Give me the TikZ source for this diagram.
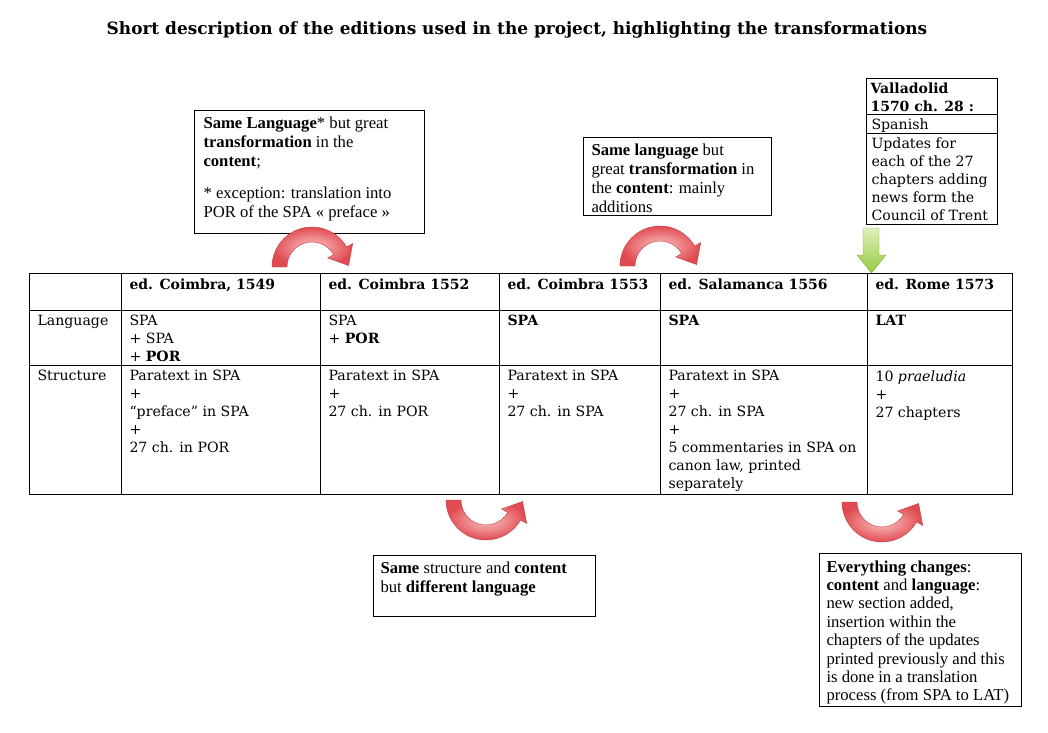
\documentclass[tikz,border=0pt]{standalone}
\usepackage{fontspec}
\setmainfont{DejaVu Serif}
\newfontfamily\notefont{Liberation Serif}
\usetikzlibrary{positioning, fit}

\definecolor{arcred}{RGB}{224,74,80}
\definecolor{arcpink}{RGB}{252,196,196}
\definecolor{leafgreen}{RGB}{150,201,66}
\definecolor{palegreen}{RGB}{222,240,184}

\begin{document}
\begin{tikzpicture}[
    x=0.75pt, y=-0.75pt,
    line width=0.75pt,
    frame/.style={draw=black, inner sep=0pt},
    head/.style={anchor=north west, inner sep=0pt, align=left,
      font=\bfseries\fontsize{10.5}{13.5}\selectfont},
    cell/.style={anchor=north west, inner sep=0pt, align=left,
      font=\fontsize{10.6}{13.5}\selectfont},
    note/.style={anchor=north west, inner sep=0pt, align=left,
      font=\notefont\fontsize{12.5}{14.25}\selectfont},
    redarc/.style={draw=arcred!85!black, line width=0.3pt,
      inner color=arcpink, outer color=arcred},
    greenarr/.style={draw=leafgreen!85!black, line width=0.3pt,
      top color=palegreen, bottom color=leafgreen}
  ]
  \useasboundingbox (0,0) rectangle (1048,732);

  \node[font=\bfseries\fontsize{12.7}{15}\selectfont] (title) at (517,30)
    {Short description of the editions used in the project, highlighting the transformations};

  % ===== Table =====
  \node[frame, fit={(29,273) (1012,494)}] (tab) {};
  \foreach \cx in {121,320,499,660,867}
    \draw (\cx,273) -- (\cx,494);
  \foreach \ry in {310,365}
    \draw (29,\ry) -- (1012,\ry);

  \node[head] (h1549) at (129,278) {ed. Coimbra, 1549};
  \node[head] (h1552) at (328,278) {ed. Coimbra 1552};
  \node[head] (h1553) at (507,278) {ed. Coimbra 1553};
  \node[head] (h1556) at (668,278) {ed. Salamanca 1556};
  \node[head] (h1573) at (875,278) {ed. Rome 1573};

  \node[cell] (langlbl)  at (37,315)  {Language};
  \node[cell] (lang1549) at (129,315) {SPA\\+ SPA\\+ \textbf{POR}};
  \node[cell] (lang1552) at (328,315) {SPA\\+ \textbf{POR}};
  \node[cell] (lang1553) at (507,315) {\textbf{SPA}};
  \node[cell] (lang1556) at (668,315) {\textbf{SPA}};
  \node[cell] (lang1573) at (875,315) {\textbf{LAT}};

  \node[cell] (strlbl)  at (37,370)  {Structure};
  \node[cell] (str1549) at (129,370) {Paratext in SPA\\+\\“preface” in SPA\\+\\27 ch. in POR};
  \node[cell] (str1552) at (328,370) {Paratext in SPA\\+\\27 ch. in POR};
  \node[cell] (str1553) at (507,370) {Paratext in SPA\\+\\27 ch. in SPA};
  \node[cell] (str1556) at (668,370) {Paratext in SPA\\+\\27 ch. in SPA\\+\\5 commentaries in SPA on\\canon law, printed\\separately};
  \node[cell] (str1573) at (875,370) {10 \textit{praeludia}\\+\\27 chapters};

  % ===== Notes above =====
  \node[frame, fit={(194,110) (424,233)}] (samelang) {};
  \node[note] (samelang-txt) at (203,116)
    {\textbf{Same Language}* but great\\\textbf{transformation} in the\\\textbf{content};\\[9.75pt]
     * exception: translation into\\POR of the SPA « preface »};

  \node[frame, fit={(583,137) (771,215)}] (addnote) {};
  \node[note] (addnote-txt) at (591,143)
    {\textbf{Same language} but\\great \textbf{transformation} in\\the \textbf{content}: mainly\\additions};

  \node[frame, fit={(866,78) (997,114)}] (vall) {};
  \node[frame, fit={(866,114) (997,133)}] (vall-lang) {};
  \node[frame, fit={(866,133) (997,224)}] (vall-body) {};
  \node[head] (vall-txt) at (870,82) {Valladolid\\1570 ch. 28 :};
  \node[cell] (vall-lang-txt) at (871,118) {Spanish};
  \node[cell] (vall-body-txt) at (871,137) {Updates for\\each of the 27\\chapters adding\\news form the\\Council of Trent};

  % ===== Notes below =====
  \node[frame, fit={(373,555) (595,616)}] (samestr) {};
  \node[note] (samestr-txt) at (380,561)
    {\textbf{Same} structure and \textbf{content}\\but \textbf{different language}};

  \node[frame, fit={(819,553) (1021,706)}] (allchg) {};
  \node[note, font=\notefont\fontsize{12.5}{13.8}\selectfont] (allchg-txt) at (826,560)
    {\textbf{Everything changes}:\\\textbf{content} and \textbf{language}:\\new section added,\\insertion within the\\chapters of the updates\\printed previously and this\\is done in a translation\\process (from SPA to LAT)};

  % ===== Curved arrows =====
  \begin{scope}[shift={(312,267)}]
    \path[redarc] (180:25) -- (180:40) arc[start angle=180, end angle=330, radius=40]
      -- (330:47) -- (36.6,-1.5) -- (330:18) -- (330:25)
      arc[start angle=330, end angle=180, radius=25] -- cycle;
  \end{scope}
  \begin{scope}[shift={(660,266)}]
    \path[redarc] (180:25) -- (180:40) arc[start angle=180, end angle=330, radius=40]
      -- (330:47) -- (36.6,-1.5) -- (330:18) -- (330:25)
      arc[start angle=330, end angle=180, radius=25] -- cycle;
  \end{scope}
  \begin{scope}[shift={(486,500)}]
    \path[redarc] (180:25) -- (180:40) arc[start angle=180, end angle=30, radius=40]
      -- (30:47) -- (36.6,1.5) -- (30:18) -- (30:25)
      arc[start angle=30, end angle=180, radius=25] -- cycle;
  \end{scope}
  \begin{scope}[shift={(882,502)}]
    \path[redarc] (180:25) -- (180:40) arc[start angle=180, end angle=30, radius=40]
      -- (30:47) -- (36.6,1.5) -- (30:18) -- (30:25)
      arc[start angle=30, end angle=180, radius=25] -- cycle;
  \end{scope}

  % green arrow from the Valladolid box
  \path[greenarr] (863,228) -- (879,228) -- (879,255) -- (886,255) -- (871.5,273)
    -- (857,255) -- (863,255) -- cycle;
\end{tikzpicture}
\end{document}
